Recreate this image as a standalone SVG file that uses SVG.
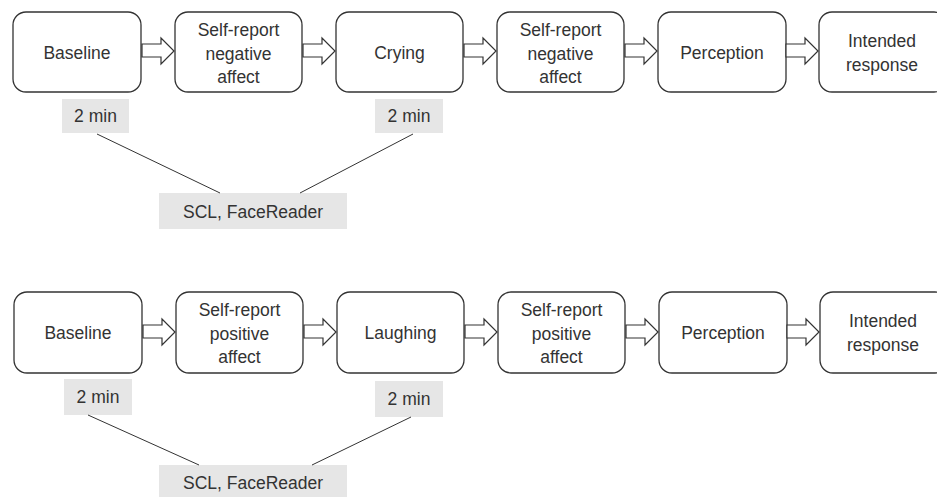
<svg xmlns="http://www.w3.org/2000/svg" width="937" height="497" viewBox="0 0 937 497">
<defs>
<style>
.box{fill:#fff;stroke:#333;stroke-width:1.3}
.lbl{fill:#e6e6e6}
.t{font-family:"Liberation Sans",Arial,sans-serif;font-size:17.5px;fill:#333;text-anchor:middle}
.arr{fill:#fff;stroke:#333;stroke-width:1.2;stroke-linejoin:miter}
.ln{stroke:#333;stroke-width:1;fill:none}
</style>
<path id="arrow" class="arr" d="M0,-7 H19 V-13 L32,0 L19,13 V6 H0 Z"/>
</defs>
<rect width="937" height="497" fill="#fff"/>

<g id="row1">
<g id="n1a"><rect class="box" x="13" y="12" width="128" height="80" rx="13"/><text class="t" x="77" y="59">Baseline</text></g>
<g id="n1b"><rect class="box" x="175" y="12" width="127" height="80" rx="13"/><text class="t" x="238.500" y="36">Self-report</text><text class="t" x="238.500" y="60">negative</text><text class="t" x="238.500" y="83">affect</text></g>
<g id="n1c"><rect class="box" x="336" y="12" width="127" height="80" rx="13"/><text class="t" x="399.500" y="59">Crying</text></g>
<g id="n1d"><rect class="box" x="497" y="12" width="127" height="80" rx="13"/><text class="t" x="560.500" y="36">Self-report</text><text class="t" x="560.500" y="60">negative</text><text class="t" x="560.500" y="83">affect</text></g>
<g id="n1e"><rect class="box" x="658" y="12" width="128" height="80" rx="13"/><text class="t" x="722" y="59">Perception</text></g>
<g id="n1f"><rect class="box" x="819" y="12" width="128" height="80" rx="13"/><text class="t" x="882" y="47">Intended</text><text class="t" x="882" y="71">response</text></g>
<g id="m1a"><rect class="lbl" x="62" y="99" width="67" height="34"/><text class="t" x="95.500" y="122">2 min</text></g>
<g id="m1b"><rect class="lbl" x="375" y="99" width="68" height="34"/><text class="t" x="409" y="122">2 min</text></g>
<g id="s1"><rect class="lbl" x="159" y="193" width="188" height="36"/><text class="t" x="253" y="218">SCL, FaceReader</text></g>
</g>

<g id="row2">
<g id="n2a"><rect class="box" x="14" y="292" width="128" height="81" rx="13"/><text class="t" x="78" y="339">Baseline</text></g>
<g id="n2b"><rect class="box" x="176" y="292" width="127" height="81" rx="13"/><text class="t" x="239.500" y="316">Self-report</text><text class="t" x="239.500" y="340">positive</text><text class="t" x="239.500" y="363">affect</text></g>
<g id="n2c"><rect class="box" x="337" y="292" width="127" height="81" rx="13"/><text class="t" x="400.500" y="339">Laughing</text></g>
<g id="n2d"><rect class="box" x="498" y="292" width="127" height="81" rx="13"/><text class="t" x="561.500" y="316">Self-report</text><text class="t" x="561.500" y="340">positive</text><text class="t" x="561.500" y="363">affect</text></g>
<g id="n2e"><rect class="box" x="659" y="292" width="128" height="81" rx="13"/><text class="t" x="723" y="339">Perception</text></g>
<g id="n2f"><rect class="box" x="820" y="292" width="128" height="81" rx="13"/><text class="t" x="883" y="327">Intended</text><text class="t" x="883" y="351">response</text></g>
<g id="m2a"><rect class="lbl" x="64" y="379" width="68" height="36"/><text class="t" x="98" y="403">2 min</text></g>
<g id="m2b"><rect class="lbl" x="375" y="381" width="68" height="36"/><text class="t" x="409" y="405">2 min</text></g>
<g id="s2"><rect class="lbl" x="159" y="465" width="188" height="34"/><text class="t" x="253" y="489">SCL, FaceReader</text></g>
</g>

<g id="connectors">
<use href="#arrow" x="142" y="51"/>
<use href="#arrow" x="303" y="51"/>
<use href="#arrow" x="464" y="51"/>
<use href="#arrow" x="625" y="51"/>
<use href="#arrow" x="786" y="51"/>
<use href="#arrow" x="143" y="332"/>
<use href="#arrow" x="304" y="332"/>
<use href="#arrow" x="465" y="332"/>
<use href="#arrow" x="626" y="332"/>
<use href="#arrow" x="787" y="332"/>
<line class="ln" x1="97" y1="134" x2="220" y2="193"/>
<line class="ln" x1="413" y1="134" x2="300" y2="193"/>
<line class="ln" x1="88" y1="415" x2="199" y2="465"/>
<line class="ln" x1="411" y1="417" x2="312" y2="465"/>
</g>
</svg>
